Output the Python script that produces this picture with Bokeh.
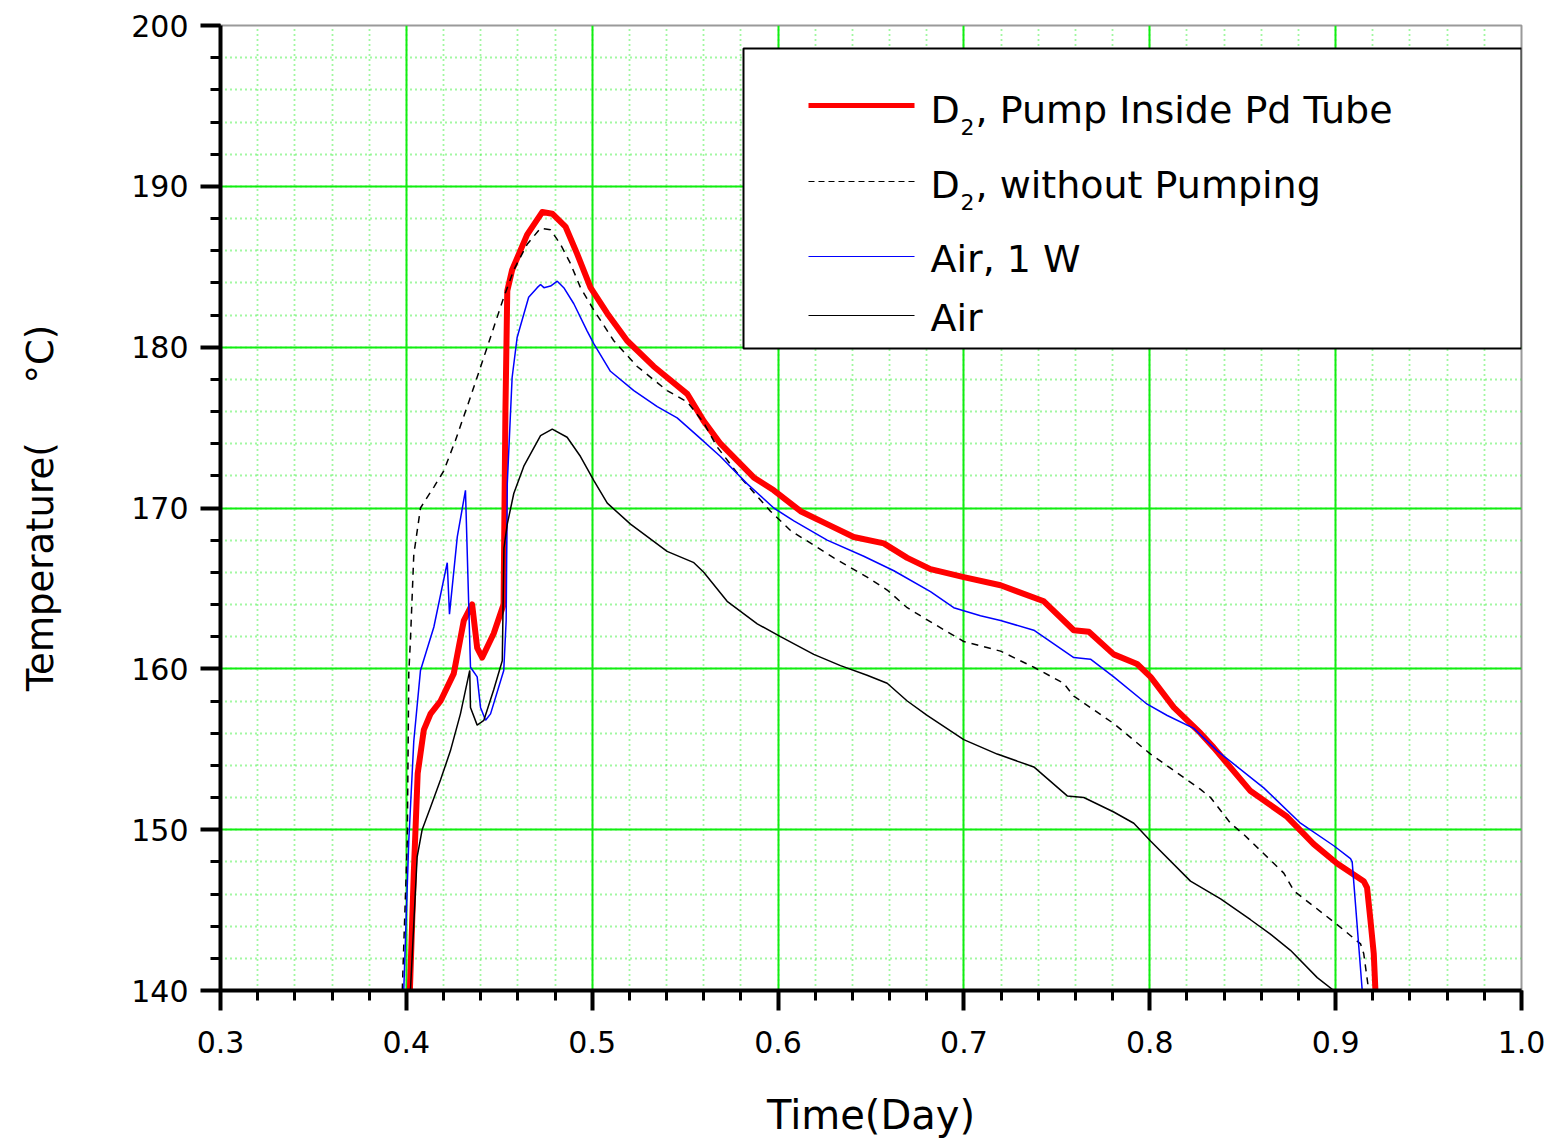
import math
from bokeh.plotting import figure
from bokeh.models import Range1d, FixedTicker, PrintfTickFormatter, Label, BoxAnnotation, Arrow
from bokeh.embed import file_html
from bokeh.resources import INLINE

# ---------------- data ----------------
x_ticks = [0.3, 0.4, 0.5, 0.6, 0.7, 0.8, 0.9, 1.0]
y_ticks = [140, 150, 160, 170, 180, 190, 200]

series_names = ["D2, Pump Inside Pd Tube", "D2, without Pumping", "Air, 1 W", "Air"]

red_x = [0.4019, 0.4040, 0.4061, 0.4094, 0.4130, 0.4184, 0.4255, 0.4309, 0.4354, 0.4381,
         0.4408, 0.4470, 0.4523, 0.4533, 0.4543, 0.4569, 0.4650, 0.4731, 0.4785, 0.4856,
         0.4919, 0.4991, 0.5081, 0.5188, 0.5331, 0.5511, 0.5600, 0.5690, 0.5869, 0.5977,
         0.6121, 0.6264, 0.6407, 0.6569, 0.6695, 0.6820, 0.6999, 0.7197, 0.7430, 0.7591,
         0.7672, 0.7806, 0.7932, 0.8004, 0.8129, 0.8273, 0.8344, 0.8542, 0.8739, 0.8882,
         0.9008, 0.9151, 0.9169, 0.9187, 0.9205, 0.9214]
red_y = [140.0, 147.3, 153.5, 156.2, 157.2, 158.0, 159.7, 163.0, 164.0, 161.3,
         160.7, 162.2, 164.0, 176.0, 183.5, 184.8, 187.0, 188.4, 188.3, 187.5,
         185.8, 183.7, 182.1, 180.4, 178.8, 177.1, 175.4, 174.0, 171.9, 171.1,
         169.8, 169.0, 168.2, 167.8, 166.9, 166.2, 165.7, 165.2, 164.2, 162.4,
         162.3, 160.9, 160.3, 159.5, 157.6, 156.0, 155.1, 152.4, 150.8, 149.1,
         147.9, 146.8, 146.4, 144.4, 142.3, 140.0]

dash_x = [0.3978, 0.4005, 0.4013, 0.4022, 0.4040, 0.4076, 0.4103, 0.4148, 0.4201, 0.4264,
          0.4345, 0.4435, 0.4524, 0.4578, 0.4650, 0.4722, 0.4776, 0.4829, 0.4883, 0.4937,
          0.5009, 0.5116, 0.5242, 0.5403, 0.5511, 0.5600, 0.5672, 0.5798, 0.5959, 0.6067,
          0.6300, 0.6479, 0.6587, 0.6695, 0.6838, 0.6999, 0.7197, 0.7376, 0.7537, 0.7591,
          0.7806, 0.8004, 0.8273, 0.8327, 0.8434, 0.8506, 0.8721, 0.8775, 0.9008, 0.9134,
          0.9151, 0.9178]
dash_y = [140.0, 149.3, 159.7, 161.8, 167.1, 170.0, 170.5, 171.3, 172.3, 174.2,
          176.9, 180.0, 183.1, 184.8, 186.4, 187.4, 187.3, 186.4, 185.2, 183.7,
          182.3, 180.4, 178.8, 177.3, 176.6, 175.3, 173.8, 171.9, 169.8, 168.6,
          166.9, 165.7, 164.9, 163.8, 162.8, 161.7, 161.1, 160.1, 159.1, 158.3,
          156.6, 154.7, 152.5, 152.0, 150.4, 149.7, 147.3, 146.2, 144.1, 142.9,
          142.3, 140.0]

blue_x = [0.3986, 0.4013, 0.4040, 0.4076, 0.4148, 0.4220, 0.4232, 0.4274, 0.4318, 0.4336,
          0.4345, 0.4381, 0.4399, 0.4426, 0.4453, 0.4524, 0.4537, 0.4543, 0.4569, 0.4596,
          0.4658, 0.4704, 0.4722, 0.4740, 0.4776, 0.4812, 0.4847, 0.4901, 0.4973, 0.5009,
          0.5098, 0.5224, 0.5350, 0.5457, 0.5565, 0.5690, 0.5834, 0.5977, 0.6085, 0.6264,
          0.6461, 0.6623, 0.6820, 0.6945, 0.7089, 0.7197, 0.7376, 0.7591, 0.7681, 0.7806,
          0.7986, 0.8094, 0.8237, 0.8363, 0.8613, 0.8811, 0.8990, 0.9080, 0.9089, 0.9143]
blue_y = [140.0, 149.3, 155.5, 159.9, 162.6, 166.6, 163.4, 168.2, 171.1, 163.8,
          160.1, 159.5, 157.6, 156.8, 157.2, 159.9, 163.0, 171.5, 178.1, 180.6,
          183.1, 183.7, 183.9, 183.7, 183.8, 184.1, 183.7, 182.7, 181.0, 180.2,
          178.5, 177.3, 176.3, 175.6, 174.5, 173.2, 171.5, 170.0, 169.2, 168.0,
          167.0, 166.1, 164.8, 163.8, 163.3, 163.0, 162.4, 160.7, 160.6, 159.5,
          157.8, 157.1, 156.3, 154.9, 152.6, 150.4, 149.0, 148.2, 148.0, 140.0]

air_x = [0.4022, 0.4058, 0.4085, 0.4130, 0.4184, 0.4237, 0.4291, 0.4341, 0.4345, 0.4381,
         0.4417, 0.4470, 0.4516, 0.4525, 0.4543, 0.4578, 0.4632, 0.4722, 0.4785, 0.4865,
         0.4937, 0.5009, 0.5081, 0.5206, 0.5403, 0.5547, 0.5600, 0.5726, 0.5888, 0.6013,
         0.6192, 0.6336, 0.6479, 0.6587, 0.6695, 0.6802, 0.6999, 0.7179, 0.7376, 0.7556,
         0.7645, 0.7806, 0.7914, 0.8004, 0.8219, 0.8381, 0.8542, 0.8649, 0.8757, 0.8901,
         0.8990]
air_y = [140.0, 148.3, 150.0, 151.4, 153.1, 154.9, 157.2, 159.9, 157.6, 156.5,
         156.8, 158.7, 160.5, 167.5, 169.0, 170.9, 172.6, 174.5, 174.9, 174.4,
         173.2, 171.7, 170.3, 169.0, 167.3, 166.6, 166.0, 164.2, 162.8, 162.0,
         160.9, 160.2, 159.6, 159.1, 158.0, 157.1, 155.6, 154.7, 153.9, 152.1,
         152.0, 151.1, 150.4, 149.3, 146.8, 145.7, 144.4, 143.5, 142.5, 140.8,
         140.0]

# ---------------- figure ----------------
FONT = "DejaVu Sans"

p = figure(width=1556, height=1147,
           x_range=Range1d(0.3, 1.0), y_range=Range1d(140, 200),
           output_backend="svg", toolbar_location=None,
           min_border_left=220, min_border_right=35,
           min_border_top=25, min_border_bottom=157)
p.background_fill_color = "white"
p.border_fill_color = "white"
p.outline_line_color = "#9a9a9a"
p.outline_line_width = 2

x_minor = [round(0.3 + 0.02 * i, 2) for i in range(36)]
y_minor = [140 + 2 * i for i in range(31)]
p.xaxis.ticker = FixedTicker(ticks=x_ticks, minor_ticks=x_minor)
p.yaxis.ticker = FixedTicker(ticks=y_ticks, minor_ticks=y_minor)
p.xaxis.formatter = PrintfTickFormatter(format="%.1f")
p.yaxis.formatter = PrintfTickFormatter(format="%d")

for ax in (p.xaxis[0], p.yaxis[0]):
    ax.axis_line_width = 4
    ax.axis_line_color = "black"
    ax.major_tick_line_width = 4
    ax.major_tick_line_color = "black"
    ax.major_tick_out = 20
    ax.major_tick_in = 0
    ax.minor_tick_line_width = 3
    ax.minor_tick_line_color = "black"
    ax.minor_tick_out = 10
    ax.minor_tick_in = 0
    ax.major_label_text_font = FONT
    ax.major_label_text_font_size = "30px"
    ax.major_label_text_color = "black"
    ax.axis_label_text_font = FONT
    ax.axis_label_text_font_style = "normal"
    ax.axis_label_text_color = "black"

p.xaxis.major_label_standoff = 20
p.yaxis.major_label_standoff = 12

p.xaxis.axis_label = "Time(Day)"
p.xaxis.axis_label_text_font_size = "40px"
p.xaxis.axis_label_standoff = 36

p.yaxis.axis_label = "Temperature(" + "\u00a0" * 5 + "\u00b0C)"
p.yaxis.axis_label_text_font_size = "37px"
p.yaxis.axis_label_standoff = 66

for g in (p.xgrid[0], p.ygrid[0]):
    g.grid_line_color = "#11ee11"
    g.grid_line_width = 2
    g.minor_grid_line_color = "#44f044"
    g.minor_grid_line_width = 1.8
    g.minor_grid_line_dash = "1 4"

# ---------------- series ----------------
p.line(red_x, red_y, line_color="#ff0000", line_width=6, line_join="round")
p.line(dash_x, dash_y, line_color="black", line_width=1.5, line_dash="7 6")
p.line(blue_x, blue_y, line_color="#0000ff", line_width=1.5)
p.line(air_x, air_y, line_color="black", line_width=1.5)

# ---------------- legend (drawn by hand for the subscripts) ----------------
p.add_layout(BoxAnnotation(left=523, right=1301, bottom=642, top=942,
                           left_units="screen", right_units="screen",
                           bottom_units="screen", top_units="screen",
                           fill_color="white", fill_alpha=1.0,
                           line_color="black", line_width=2, line_alpha=1.0))

samples = [(885, "#ff0000", 5, "solid"), (809, "black", 1.2, "6 4"),
           (734, "#0000ff", 1.2, "solid"), (675, "black", 1.2, "solid")]
for sy, col, lw, dash in samples:
    p.add_layout(Arrow(end=None, x_start=588, y_start=sy, x_end=694, y_end=sy,
                       start_units="screen", end_units="screen",
                       line_color=col, line_width=lw, line_dash=dash))

def lab(x, y, text, size):
    p.add_layout(Label(x=x, y=y, x_units="screen", y_units="screen", text=text,
                       text_font=FONT, text_font_size=size, text_color="black",
                       text_align="left", text_baseline="alphabetic"))

LEG = "38px"
SUB = "22px"
# row 1: D2, Pump Inside Pd Tube
lab(710, 881, "D", LEG)
lab(740, 864, "2", SUB)
lab(755, 881, ", Pump Inside Pd Tube", LEG)
# row 2: D2, without Pumping
lab(710, 806, "D", LEG)
lab(740, 789, "2", SUB)
lab(755, 806, ", without Pumping", LEG)
# rows 3, 4
lab(710, 732, series_names[2], LEG)
lab(710, 673, series_names[3], LEG)

open("out.html", "w").write(file_html(p, INLINE))
